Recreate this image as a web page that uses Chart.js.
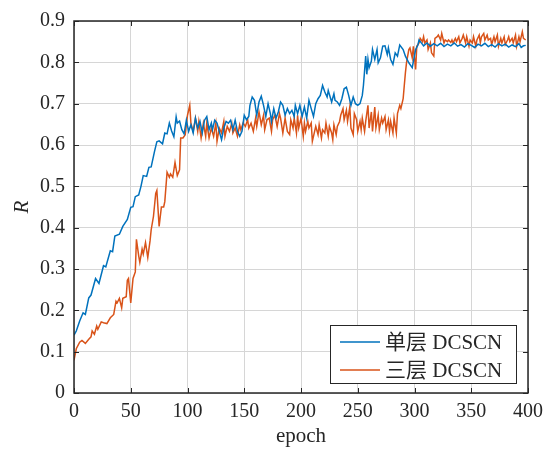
<!DOCTYPE html>
<html>
<head>
<meta charset="utf-8">
<script src="https://cdn.jsdelivr.net/npm/chart.js@4.4.0/dist/chart.umd.min.js"></script>
<style>
  html, body { margin: 0; background: #fff; }
</style>
</head>
<body>
<canvas id="chart" width="550" height="450"></canvas>
<script>
// [epoch, R]
const single = [
  [0,0.140],[2,0.150],[5,0.174],[8,0.194],[10,0.190],[13,0.230],[15,0.237],[19,0.277],[22,0.265],[26,0.308],
  [28,0.305],[32,0.344],[34,0.342],[36,0.380],[40,0.384],[43,0.403],[47,0.420],[50,0.449],[52,0.451],[54,0.475],
  [57,0.479],[59,0.500],[61,0.526],[64,0.524],[66,0.546],[68,0.547],[71,0.585],[73,0.608],[75,0.610],[78,0.603],
  [80,0.629],[82,0.627],[84,0.653],[86,0.634],[88,0.620],[90,0.668],[91,0.653],[93,0.658],[95,0.637],[97,0.627],
  [99,0.660],[101,0.633],[103,0.649],[105,0.629],[107,0.665],[109,0.641],[111,0.657],[113,0.629],[115,0.660],[117,0.669],
  [119,0.637],[121,0.653],[122,0.637],[124,0.660],[126,0.653],[128,0.633],[130,0.613],[132,0.641],[134,0.657],[136,0.653],
  [138,0.660],[140,0.637],[142,0.660],[144,0.633],[146,0.621],[148,0.633],[150,0.672],[152,0.661],[154,0.669],[155,0.696],
  [157,0.716],[159,0.708],[161,0.672],[163,0.704],[165,0.718],[167,0.696],[169,0.669],[171,0.700],[173,0.676],[174,0.657],
  [176,0.688],[178,0.665],[180,0.680],[182,0.704],[184,0.696],[186,0.672],[188,0.688],[190,0.676],[192,0.684],[194,0.669],
  [195,0.696],[197,0.676],[199,0.696],[201,0.669],[203,0.692],[205,0.665],[207,0.708],[209,0.688],[211,0.669],[213,0.700],
  [215,0.712],[217,0.720],[219,0.744],[221,0.728],[223,0.716],[224,0.732],[227,0.704],[229,0.724],[230,0.708],[232,0.704],
  [234,0.696],[236,0.712],[238,0.736],[240,0.740],[242,0.720],[244,0.696],[246,0.716],[248,0.700],[250,0.696],[252,0.700],
  [254,0.720],[255,0.744],[256,0.779],[257,0.815],[258,0.771],[259,0.807],[260,0.787],[262,0.803],[263,0.831],[265,0.807],
  [267,0.831],[268,0.799],[270,0.811],[272,0.839],[274,0.840],[276,0.819],[277,0.835],[279,0.807],[281,0.795],[283,0.823],
  [285,0.815],[287,0.842],[290,0.831],[292,0.815],[295,0.799],[297,0.791],[298,0.787],[301,0.831],[303,0.842],[304,0.854],
  [306,0.847],[308,0.840],[311,0.847],[314,0.839],[317,0.845],[320,0.840],[323,0.846],[326,0.838],[329,0.844],[332,0.840],
  [335,0.847],[338,0.839],[341,0.843],[344,0.837],[347,0.845],[350,0.841],[353,0.836],[356,0.844],[359,0.840],[362,0.846],
  [365,0.838],[368,0.843],[371,0.837],[374,0.845],[377,0.840],[380,0.844],[383,0.837],[386,0.842],[389,0.838],[392,0.845],
  [394,0.836],[396,0.840],[398,0.841]
];

const triple = [
  [0,0.079],[2,0.107],[5,0.123],[7,0.127],[10,0.120],[13,0.130],[15,0.136],[16,0.150],[18,0.142],[20,0.162],
  [21,0.154],[24,0.172],[26,0.170],[29,0.168],[32,0.182],[35,0.190],[37,0.222],[38,0.218],[40,0.229],[42,0.206],
  [43,0.229],[46,0.233],[47,0.273],[48,0.277],[50,0.218],[52,0.277],[54,0.293],[55,0.372],[57,0.332],[58,0.316],
  [60,0.348],[61,0.336],[63,0.364],[65,0.328],[67,0.368],[68,0.395],[70,0.427],[72,0.483],[73,0.490],[75,0.403],
  [77,0.450],[79,0.450],[80,0.463],[82,0.534],[84,0.522],[85,0.530],[87,0.522],[89,0.558],[91,0.526],[93,0.540],
  [94,0.617],[96,0.617],[98,0.625],[100,0.672],[102,0.696],[103,0.653],[105,0.633],[107,0.665],[109,0.633],[110,0.657],
  [112,0.617],[114,0.653],[116,0.621],[117,0.653],[119,0.617],[121,0.641],[123,0.621],[125,0.653],[126,0.609],[128,0.641],
  [130,0.629],[132,0.657],[133,0.621],[135,0.645],[137,0.633],[139,0.653],[140,0.629],[142,0.641],[144,0.621],[146,0.649],
  [147,0.637],[149,0.653],[151,0.645],[153,0.661],[154,0.641],[156,0.653],[158,0.633],[160,0.665],[161,0.645],[163,0.680],
  [165,0.649],[167,0.672],[168,0.637],[170,0.661],[172,0.665],[174,0.633],[175,0.661],[177,0.672],[179,0.645],[181,0.676],
  [182,0.665],[184,0.629],[186,0.665],[188,0.633],[190,0.625],[191,0.661],[193,0.641],[194,0.665],[196,0.629],[197,0.672],
  [198,0.641],[200,0.665],[202,0.621],[203,0.653],[204,0.633],[206,0.657],[207,0.641],[209,0.653],[210,0.609],[212,0.633],
  [213,0.645],[215,0.625],[216,0.649],[218,0.617],[219,0.637],[221,0.629],[222,0.653],[224,0.621],[225,0.645],[227,0.629],
  [228,0.613],[229,0.649],[231,0.625],[232,0.645],[234,0.657],[235,0.672],[237,0.688],[238,0.661],[240,0.684],[241,0.657],
  [243,0.692],[244,0.641],[246,0.625],[247,0.676],[249,0.661],[250,0.633],[252,0.657],[253,0.637],[254,0.665],[256,0.633],
  [257,0.657],[259,0.696],[260,0.641],[262,0.680],[263,0.633],[265,0.692],[266,0.641],[268,0.672],[269,0.637],[271,0.665],
  [272,0.653],[274,0.669],[275,0.637],[277,0.661],[278,0.633],[279,0.657],[281,0.629],[282,0.665],[284,0.629],[285,0.676],
  [287,0.696],[288,0.688],[290,0.712],[291,0.744],[292,0.775],[293,0.800],[295,0.831],[296,0.835],[298,0.811],[299,0.839],
  [301,0.783],[302,0.839],[304,0.847],[305,0.858],[307,0.850],[308,0.862],[309,0.847],[311,0.854],[312,0.831],[314,0.847],
  [315,0.823],[317,0.815],[318,0.858],[320,0.862],[321,0.866],[323,0.854],[324,0.870],[326,0.847],[327,0.854],[329,0.850],
  [330,0.854],[332,0.848],[333,0.854],[334,0.847],[336,0.858],[337,0.850],[339,0.862],[340,0.847],[342,0.858],[343,0.866],
  [345,0.847],[346,0.862],[348,0.839],[349,0.854],[351,0.847],[352,0.862],[354,0.839],[355,0.854],[357,0.866],[358,0.847],
  [359,0.862],[361,0.870],[362,0.854],[364,0.866],[365,0.854],[367,0.858],[368,0.843],[370,0.862],[371,0.850],[373,0.866],
  [374,0.839],[376,0.858],[377,0.847],[379,0.862],[380,0.843],[382,0.854],[383,0.862],[384,0.850],[386,0.858],[387,0.847],
  [389,0.866],[390,0.839],[392,0.862],[393,0.850],[395,0.874],[396,0.858],[398,0.854]
];

const seriesNames = ['单层 DCSCN', '三层 DCSCN'];
const xTicks = [0, 50, 100, 150, 200, 250, 300, 350, 400];
const yTicks = [0, 0.1, 0.2, 0.3, 0.4, 0.5, 0.6, 0.7, 0.8, 0.9];
const yTickLabels = ['0', '0.1', '0.2', '0.3', '0.4', '0.5', '0.6', '0.7', '0.8', '0.9'];

const serif = "'Liberation Serif', 'Noto Sans CJK SC', serif";
const axisColor = '#262626';

Chart.defaults.font.family = serif;
Chart.defaults.color = axisColor;

function toPoints(rows) {
  return rows.map(r => ({ x: r[0], y: r[1] }));
}

// box around the plot + inward ticks on all four sides
const boxPlugin = {
  id: 'box',
  afterDatasetsDraw(chart) {
    const { ctx, chartArea: a, scales } = chart;
    ctx.save();
    ctx.strokeStyle = axisColor;
    ctx.lineWidth = 1;
    ctx.beginPath();
    xTicks.forEach(v => {
      const px = Math.round(scales.x.getPixelForValue(v)) + 0.5;
      ctx.moveTo(px, a.bottom); ctx.lineTo(px, a.bottom - 5);
      ctx.moveTo(px, a.top); ctx.lineTo(px, a.top + 5);
    });
    yTicks.forEach(v => {
      const py = Math.round(scales.y.getPixelForValue(v)) + 0.5;
      ctx.moveTo(a.left, py); ctx.lineTo(a.left + 5, py);
      ctx.moveTo(a.right, py); ctx.lineTo(a.right - 5, py);
    });
    ctx.stroke();
    ctx.lineWidth = 1.5;
    ctx.strokeRect(a.left, a.top, a.right - a.left, a.bottom - a.top);
    ctx.restore();
  }
};

// legend inside lower right corner
const legendPlugin = {
  id: 'innerLegend',
  afterDraw(chart) {
    const { ctx, chartArea: a } = chart;
    const w = 186, h = 58;
    const x0 = a.right - 198, y0 = a.bottom - 68;
    ctx.save();
    ctx.fillStyle = '#fff';
    ctx.fillRect(x0, y0, w, h);
    ctx.strokeStyle = axisColor;
    ctx.lineWidth = 1;
    ctx.strokeRect(x0 + 0.5, y0 + 0.5, w, h);
    ctx.font = '21px ' + serif;
    ctx.textBaseline = 'middle';
    chart.data.datasets.forEach((ds, i) => {
      const cy = y0 + 17 + i * 28;
      ctx.strokeStyle = ds.borderColor;
      ctx.lineWidth = 1.5;
      ctx.beginPath();
      ctx.moveTo(x0 + 10, cy);
      ctx.lineTo(x0 + 50, cy);
      ctx.stroke();
      ctx.fillStyle = axisColor;
      ctx.fillText(ds.label, x0 + 55, cy + 1);
    });
    ctx.restore();
  }
};

new Chart(document.getElementById('chart'), {
  type: 'line',
  data: {
    datasets: [{
      label: seriesNames[0],
      data: toPoints(single),
      borderColor: '#0072BD',
      borderWidth: 1.5,
      pointRadius: 0,
      tension: 0
    }, {
      label: seriesNames[1],
      data: toPoints(triple),
      borderColor: '#D95319',
      borderWidth: 1.5,
      pointRadius: 0,
      tension: 0
    }]
  },
  options: {
    responsive: false,
    animation: false,
    layout: { padding: { left: 0, top: 14, right: 22, bottom: 0 } },
    plugins: {
      legend: { display: false },
      tooltip: { enabled: false }
    },
    scales: {
      x: {
        type: 'linear',
        min: 0,
        max: 400,
        afterBuildTicks(scale) { scale.ticks = xTicks.map(v => ({ value: v })); },
        afterFit(scale) { scale.height = 57; },
        grid: { color: '#d6d6d6', drawTicks: false },
        border: { display: false },
        ticks: { font: { size: 20 }, padding: 7, maxRotation: 0 },
        title: { display: true, text: 'epoch', font: { size: 21 }, padding: { top: 0, bottom: 1 } }
      },
      y: {
        min: 0,
        max: 0.9,
        afterBuildTicks(scale) { scale.ticks = yTicks.map(v => ({ value: v })); },
        afterFit(scale) { scale.width = 74; },
        grid: { color: '#d6d6d6', drawTicks: false },
        border: { display: false },
        ticks: {
          font: { size: 20 },
          padding: 9,
          callback: (v, i) => yTickLabels[i]
        },
        title: { display: true, text: 'R', font: { size: 21, style: 'italic' }, padding: { top: 10, bottom: 0 } }
      }
    }
  },
  plugins: [boxPlugin, legendPlugin]
});
</script>
</body>
</html>
